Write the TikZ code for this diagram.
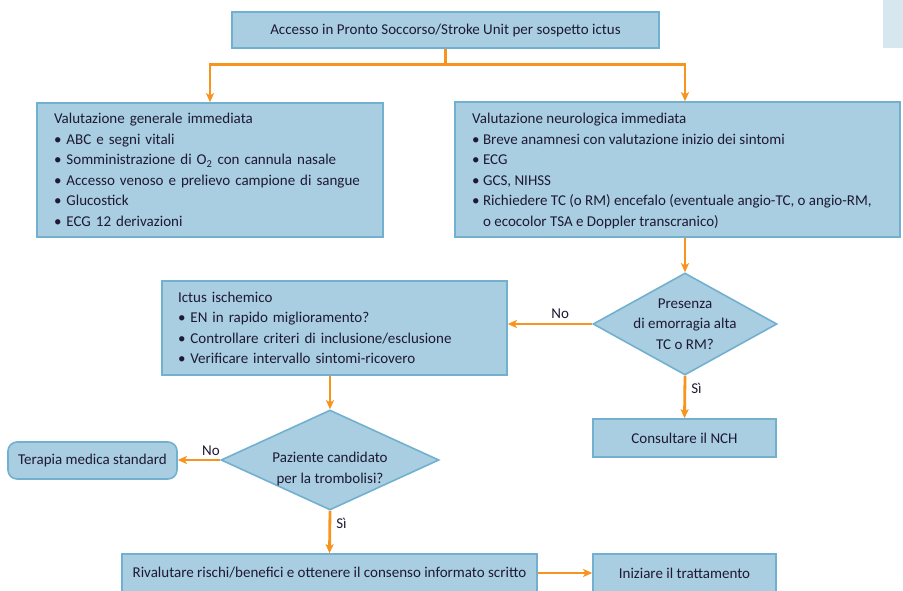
\documentclass[tikz,border=0pt]{standalone}
\usepackage{fontspec}
\setmainfont{Carlito}
\usetikzlibrary{shapes.geometric,arrows.meta,calc}
\definecolor{boxfill}{HTML}{A9CDE1}
\definecolor{boxline}{HTML}{72B0D0}
\definecolor{arr}{HTML}{F7941D}
\definecolor{txt}{HTML}{1E1A33}
\definecolor{ghost}{HTML}{D6E7F0}
\begin{document}
\begin{tikzpicture}[x=1pt,y=-1pt,
  font=\fontsize{15}{20.5}\selectfont,
  box/.style={draw=boxline, fill=boxfill, line width=1.6pt, inner ysep=0pt, text=txt},
  dia/.style={diamond, draw=boxline, fill=boxfill, line width=1.6pt, inner sep=0pt},
  arrowline/.style={draw=arr, line width=2.8pt, -{Stealth[length=9pt,width=8pt,inset=2pt]}},
  lbl/.style={text=txt, inner sep=1pt}]
\useasboundingbox (0,0) rectangle (903,590);
\clip (0,0) rectangle (903,590);
\fill[ghost] (883,0) rectangle (903,48);

% nodes
\node[box, minimum width=427, minimum height=36, inner xsep=0pt] (top) at (445.5,30) {Accesso in Pronto Soccorso/Stroke Unit per sospetto ictus};

\node[box, minimum width=346, minimum height=134, inner xsep=0pt, text width=312, align=left] (lb) at (210,170)
 {Valutazione generale immediata\\
  \textbullet\ ABC e segni vitali\\
  \textbullet\ Somministrazione di O\textsubscript{2} con cannula nasale\\
  \textbullet\ Accesso venoso e prelievo campione di sangue\\
  \textbullet\ Glucostick\\
  \textbullet\ ECG 12 derivazioni};

\node[box, minimum width=445, minimum height=135] (rb) at (677.5,169.5) {};
\node[lbl, inner sep=0pt, anchor=west, align=left] (rbt) at (472,171)
 {Valutazione neurologica immediata\\
  \textbullet\ Breve anamnesi con valutazione inizio dei sintomi\\
  \textbullet\ ECG\\
  \textbullet\ GCS, NIHSS\\
  \textbullet\ Richiedere TC (o RM) encefalo (eventuale angio-TC, o angio-RM,\\
  \phantom{\textbullet}\ o ecocolor TSA e Doppler transcranico)};

\node[dia, minimum width=184, minimum height=102] (d1) at (685,324) {};
\node[lbl, align=center] (d1t) at (d1) {Presenza\\di emorragia alta\\TC o RM?};

\node[box, minimum width=345, minimum height=94, inner xsep=0pt, text width=313, align=left] (ict) at (334.5,328)
 {Ictus ischemico\\
  \textbullet\ EN in rapido miglioramento?\\
  \textbullet\ Controllare criteri di inclusione/esclusione\\
  \textbullet\ Verificare intervallo sintomi-ricovero};

\node[box, minimum width=183, minimum height=38, inner xsep=0pt] (nch) at (684.5,438) {Consultare il NCH};

\node[dia, minimum width=218, minimum height=100] (d2) at (330,460) {};
\node[lbl, align=center] (d2t) at (330,469) {Paziente candidato\\per la trombolisi?};

\node[box, rounded corners=9pt, minimum width=169, minimum height=37, inner xsep=0pt] (ter) at (92.5,460.5) {Terapia medica standard};

\node[box, minimum width=415, minimum height=38, inner xsep=0pt] (riv) at (329.5,573) {Rivalutare rischi/benefici e ottenere il consenso informato scritto};
\node[box, minimum width=183, minimum height=38, inner xsep=0pt] (ini) at (684.5,573) {Iniziare il trattamento};

% connectors
\draw[draw=arr, line width=2.8pt] (top.south) -- ++(0,16) coordinate (j);
\draw[arrowline] (j) -| (lb.north);
\draw[arrowline] (j) -| (d1 |- rb.north);
\draw[arrowline] (d1 |- rb.south) -- (d1.north);
\draw[arrowline] (d1.west) -- (d1.west -| ict.east) node[lbl, pos=0.38, above=3pt] {No};
\draw[arrowline] (d1.south) -- (nch.north) node[lbl, pos=0.3, right=4pt] {Sì};
\draw[arrowline] (d2 |- ict.south) -- (d2.north);
\draw[arrowline] (d2.west) -- (d2.west -| ter.east) node[lbl, pos=0.22, above=2pt] {No};
\draw[arrowline] (d2.south) -- (riv.north) node[lbl, pos=0.3, right=4pt] {Sì};
\draw[arrowline] (riv.east) -- (ini.west);
\end{tikzpicture}
\end{document}
